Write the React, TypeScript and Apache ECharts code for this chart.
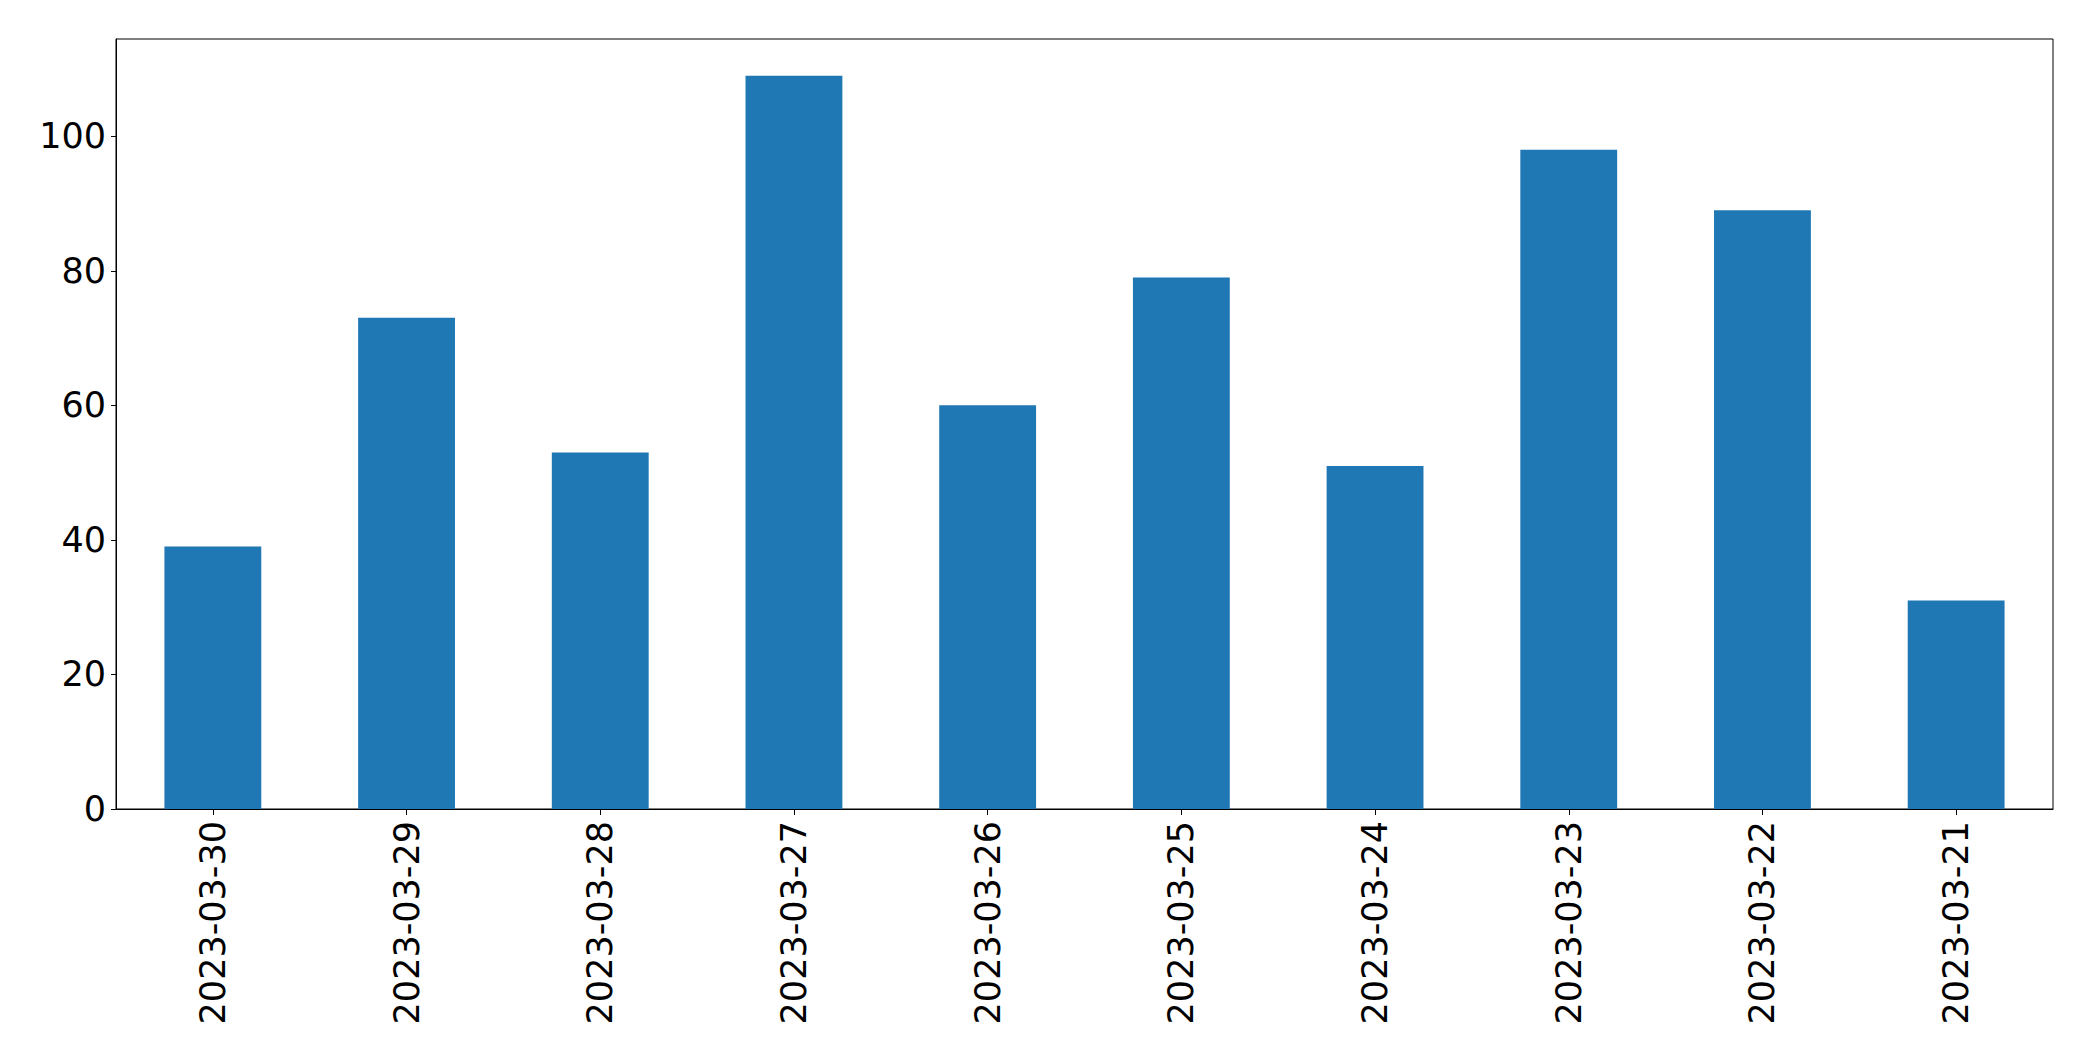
import React, { useEffect, useRef } from "react";
import * as echarts from "echarts";

const categories = [
  "2023-03-30",
  "2023-03-29",
  "2023-03-28",
  "2023-03-27",
  "2023-03-26",
  "2023-03-25",
  "2023-03-24",
  "2023-03-23",
  "2023-03-22",
  "2023-03-21",
];
const values = [39, 73, 53, 109, 60, 79, 51, 98, 89, 31];
const yTicks = [0, 20, 40, 60, 80, 100];

export default function App() {
  const ref = useRef<HTMLDivElement>(null);
  useEffect(() => {
    if (!ref.current) return;
    const chart = echarts.init(ref.current, null, { renderer: "svg" });
    const maxV = Math.max(...values) * 1.05;
    chart.setOption({
      animation: false,
      backgroundColor: "#ffffff",
      grid: {
        left: 116,
        top: 39,
        right: 40,
        bottom: 252,
        show: true,
        borderColor: "#000000",
        borderWidth: 1,
        backgroundColor: "transparent",
      },
      xAxis: {
        type: "category",
        data: categories,
        boundaryGap: true,
        axisLine: { show: true, lineStyle: { color: "#000000", width: 1 } },
        axisTick: {
          show: true,
          alignWithLabel: true,
          length: 6,
          lineStyle: { color: "#000000", width: 1 },
        },
        axisLabel: {
          rotate: 90,
          margin: 12,
          color: "#000000",
          fontFamily: "DejaVu Sans",
          fontSize: 35,
        },
        splitLine: { show: false },
      },
      yAxis: {
        type: "value",
        min: 0,
        max: maxV,
        interval: 20,
        axisLine: { show: true, lineStyle: { color: "#000000", width: 1 } },
        axisTick: {
          show: true,
          length: 5,
          customValues: yTicks,
          lineStyle: { color: "#000000", width: 1 },
        },
        axisLabel: {
          customValues: yTicks,
          margin: 10,
          color: "#000000",
          fontFamily: "DejaVu Sans",
          fontSize: 35,
        },
        splitLine: { show: false },
      },
      series: [
        {
          type: "bar",
          data: values,
          barWidth: "50%",
          itemStyle: { color: "#1f77b4" },
        },
      ],
    });
    return () => chart.dispose();
  }, []);
  return (
    <div
      ref={ref}
      style={{ position: "fixed", left: 0, top: 0, width: 2093, height: 1061 }}
    />
  );
}
